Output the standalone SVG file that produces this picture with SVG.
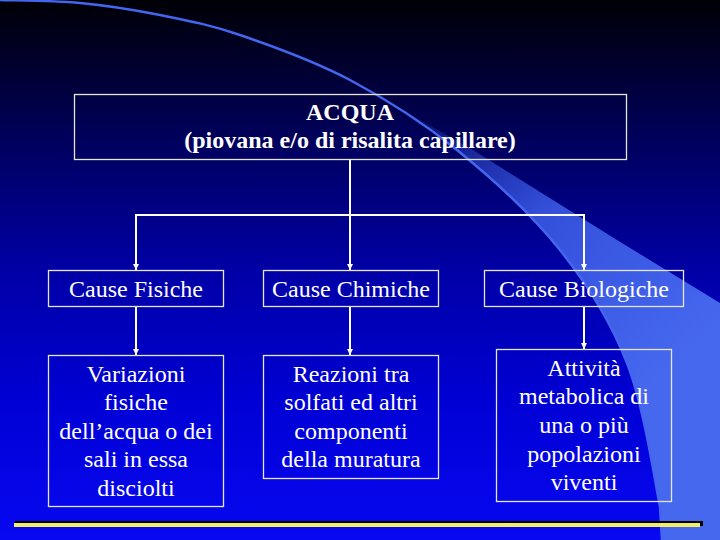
<svg xmlns="http://www.w3.org/2000/svg" width="720" height="540" viewBox="0 0 720 540">
<defs>
<linearGradient id="bg" x1="0" y1="0" x2="0" y2="1">
<stop offset="0" stop-color="#000005"/>
<stop offset="0.22" stop-color="#000050"/>
<stop offset="0.5" stop-color="#0000a6"/>
<stop offset="0.75" stop-color="#0000d6"/>
<stop offset="1" stop-color="#0808f2"/>
</linearGradient>
<linearGradient id="band" gradientUnits="userSpaceOnUse" x1="410" y1="110" x2="660" y2="380">
<stop offset="0" stop-color="#3a5ae8" stop-opacity="0.1"/>
<stop offset="0.45" stop-color="#3d5ee8" stop-opacity="0.85"/>
<stop offset="1" stop-color="#4668ee" stop-opacity="1"/>
</linearGradient>
<marker id="arr" viewBox="0 0 10 10" refX="10" refY="5" markerWidth="3.2" markerHeight="3.2" orient="auto" markerUnits="strokeWidth">
<path d="M0,0 L10,5 L0,10 z" fill="#ffffff"/>
</marker>
<style>
.box{fill:none;stroke:#e6e6d8;stroke-width:1.3}
.t{font-family:"Liberation Serif","Times New Roman","DejaVu Serif",serif;font-size:24px;fill:#ffffff;text-anchor:middle}
.b{font-weight:bold}
.c{fill:none;stroke:#ffffff;stroke-width:2}
</style>
</defs>
<rect x="0" y="0" width="720" height="540" fill="url(#bg)"/>
<g id="swoosh">
<path d="M350,80 C386.2,99.2 422,121.7 457,150 C492,178.3 531.7,214.5 560,250 C588.3,285.5 610.3,320.2 627,363 C643.7,405.8 654.2,477.5 660,507 L662,540 L720,540 L720,303 L617,240 L473,150 Z" fill="url(#band)"/>
<path d="M0,0 C13.3,0.5 53.3,0.5 80,3 C106.7,5.5 133.3,9.7 160,15 C186.7,20.3 208.3,24.2 240,35 C271.7,45.8 313.8,60.8 350,80 C386.2,99.2 422,121.7 457,150 C492,178.3 531.7,214.5 560,250 C588.3,285.5 610.3,320.2 627,363 C643.7,405.8 654.2,477.5 660,507 L662,540" fill="none" stroke="#4466ee" stroke-width="2.5"/>
</g>
<g id="connectors">
<line class="c" x1="350" y1="160" x2="350" y2="215"/>
<line class="c" x1="135" y1="215" x2="585" y2="215"/>
<line class="c" x1="136" y1="215" x2="136" y2="270" marker-end="url(#arr)"/>
<line class="c" x1="350" y1="215" x2="350" y2="270" marker-end="url(#arr)"/>
<line class="c" x1="584" y1="215" x2="584" y2="270" marker-end="url(#arr)"/>
<line class="c" x1="136" y1="307" x2="136" y2="355" marker-end="url(#arr)"/>
<line class="c" x1="350" y1="307" x2="350" y2="355" marker-end="url(#arr)"/>
<line class="c" x1="584" y1="307" x2="584" y2="349" marker-end="url(#arr)"/>
</g>
<g id="acqua">
<rect class="box" x="74.5" y="94.5" width="552" height="65"/>
<text class="t b" x="350" y="120">ACQUA</text>
<text class="t b" x="350" y="148">(piovana e/o di risalita capillare)</text>
</g>
<g id="fisiche">
<rect class="box" x="48.5" y="270.5" width="175" height="36"/>
<text class="t" x="136" y="297">Cause Fisiche</text>
</g>
<g id="chimiche">
<rect class="box" x="263.5" y="270.5" width="175" height="36"/>
<text class="t" x="351" y="297">Cause Chimiche</text>
</g>
<g id="biologiche">
<rect class="box" x="484.5" y="270.5" width="199" height="36"/>
<text class="t" x="584" y="297">Cause Biologiche</text>
</g>
<g id="variazioni">
<rect class="box" x="48.5" y="355.5" width="175" height="151"/>
<text class="t" x="136" y="382">Variazioni</text>
<text class="t" x="136" y="410">fisiche</text>
<text class="t" x="136" y="439">dell’acqua o dei</text>
<text class="t" x="136" y="467">sali in essa</text>
<text class="t" x="136" y="496">disciolti</text>
</g>
<g id="reazioni">
<rect class="box" x="263.5" y="355.5" width="175" height="123"/>
<text class="t" x="351" y="382">Reazioni tra</text>
<text class="t" x="351" y="410">solfati ed altri</text>
<text class="t" x="351" y="439">componenti</text>
<text class="t" x="351" y="467">della muratura</text>
</g>
<g id="attivita">
<rect class="box" x="496.5" y="349.5" width="175" height="152"/>
<text class="t" x="584" y="376">Attività</text>
<text class="t" x="584" y="404">metabolica di</text>
<text class="t" x="584" y="433">una o più</text>
<text class="t" x="584" y="462">popolazioni</text>
<text class="t" x="584" y="490">viventi</text>
</g>
<g id="rule">
<rect x="15" y="521" width="688" height="5" fill="#000000"/>
<rect x="14" y="523" width="686" height="4" fill="#f2ee6a"/>
</g>
</svg>
